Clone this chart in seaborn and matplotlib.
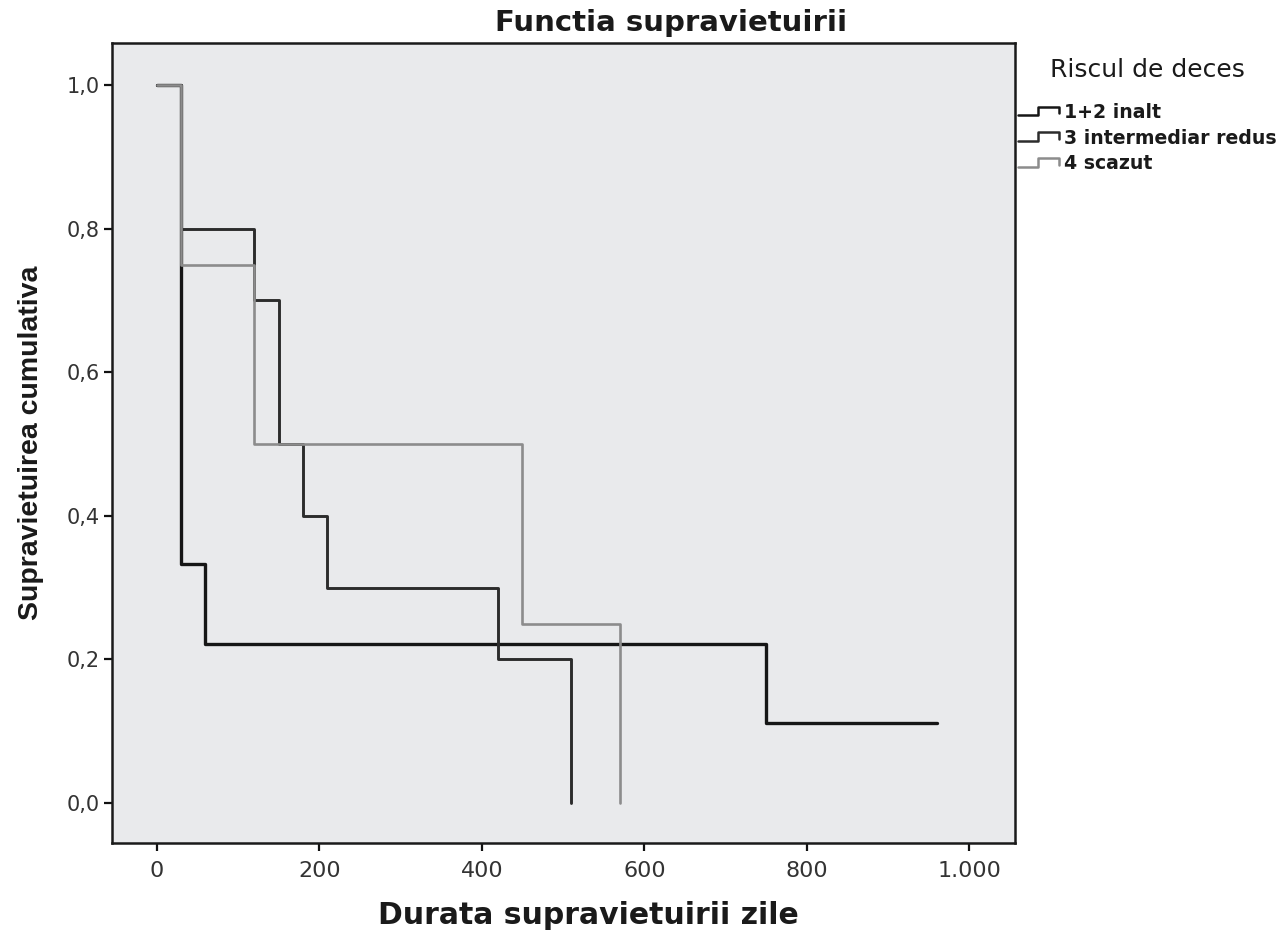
import matplotlib
matplotlib.use("Agg")
import matplotlib.pyplot as plt
import seaborn as sns
import pandas as pd
import numpy as np
from matplotlib.legend_handler import HandlerBase
from matplotlib.lines import Line2D

# Date Kaplan-Meier
grupe = ["1+2 inalt", "3 intermediar redus", "4 scazut"]
zile_inalt = [0, 30, 60, 750, 960]
surv_inalt = [1.0, 0.333, 0.222, 0.111, 0.111]
zile_interm = [0, 30, 120, 150, 180, 210, 420, 510]
surv_interm = [1.0, 0.8, 0.7, 0.5, 0.4, 0.3, 0.2, 0.0]
zile_scazut = [0, 30, 120, 450, 570]
surv_scazut = [1.0, 0.75, 0.5, 0.25, 0.0]

x_ticks = [0, 200, 400, 600, 800, 1000]
x_ticklabels = ["0", "200", "400", "600", "800", "1.000"]
y_ticks = [0.0, 0.2, 0.4, 0.6, 0.8, 1.0]
y_ticklabels = ["0,0", "0,2", "0,4", "0,6", "0,8", "1,0"]

culori = {"1+2 inalt": "#161616", "3 intermediar redus": "#2c2c2c", "4 scazut": "#8c8c8c"}
grosimi = {"1+2 inalt": 2.4, "3 intermediar redus": 2.1, "4 scazut": 1.9}

rows = []
for g, t, s in zip(grupe, [zile_inalt, zile_interm, zile_scazut], [surv_inalt, surv_interm, surv_scazut]):
    for ti, si in zip(t, s):
        rows.append((ti, si, g))
df = pd.DataFrame(rows, columns=["Zile", "Supravietuire", "Grup"])

sns.set_theme(style="white")
plt.rcParams['font.family'] = ['DejaVu Sans']

fig = plt.figure(figsize=(12.87, 9.31), dpi=100)
ax = fig.add_axes([112 / 1287, 1 - 843 / 931, 903 / 1287, 800 / 931])
ax.set_facecolor("#e9eaec")

for i, g in enumerate(grupe):
    sns.lineplot(data=df[df["Grup"] == g], x="Zile", y="Supravietuire", estimator=None,
                 drawstyle="steps-post", color=culori[g], linewidth=grosimi[g],
                 ax=ax, zorder=3 + i, legend=False)

ax.set_xlim(-55, 1056)
ax.set_ylim(-0.0557, 1.0585)
ax.set_xticks(x_ticks)
ax.set_xticklabels(x_ticklabels)
ax.set_yticks(y_ticks)
ax.set_yticklabels(y_ticklabels)
ax.tick_params(axis="x", labelsize=16, colors="#111111", length=6, width=1.6, direction="out", pad=7, labelcolor="#333333")
ax.tick_params(axis="y", labelsize=15, colors="#111111", length=6, width=1.6, direction="out", pad=3, labelcolor="#333333")
ax.tick_params(bottom=True, left=True)
for sp in ax.spines.values():
    sp.set_color("#1a1a1a")
    sp.set_linewidth(1.8)

ax.set_xlabel("Durata supravietuirii zile", fontsize=21.5, fontweight="bold", color="#1a1a1a")
ax.xaxis.set_label_coords((588 - 112) / 903, -0.072)
ax.set_ylabel("Supravietuirea cumulativa", fontsize=20.5, fontweight="bold", color="#1a1a1a",
              family=["Liberation Sans", "DejaVu Sans"])
ax.yaxis.set_label_coords(-0.075, 0.5)

fig.text(671 / 1287, 1 - 23 / 931, "Functia supravietuirii", ha="center", va="center",
         fontsize=21, fontweight="bold", color="#1a1a1a")


class StepHandler(HandlerBase):
    def create_artists(self, legend, orig_handle, xdescent, ydescent, width, height, fontsize, trans):
        xs = np.array([0.0, 0.45, 0.45, 0.95, 0.95]) * width - xdescent
        ys = np.array([0.2, 0.2, 0.85, 0.85, 0.35]) * height - ydescent
        return [Line2D(xs, ys, color=orig_handle.get_color(), lw=1.8, transform=trans)]


handles = [Line2D([], [], color=culori[g]) for g in grupe]
leg = fig.legend(handles, grupe, title="Riscul de deces", loc="upper left",
                 bbox_to_anchor=(1018 / 1287, 1 - 58 / 931), frameon=False,
                 handler_map={Line2D: StepHandler()}, handlelength=2.3, handletextpad=0.12,
                 borderpad=0, borderaxespad=0, labelspacing=0.36,
                 prop={"size": 13.6, "weight": "bold"}, title_fontsize=18)
leg._legend_box.sep = 15
for txt in leg.get_texts():
    txt.set_color("#1a1a1a")
leg.get_title().set_color("#1a1a1a")

fig.savefig("out.png", dpi=100, facecolor="white")
